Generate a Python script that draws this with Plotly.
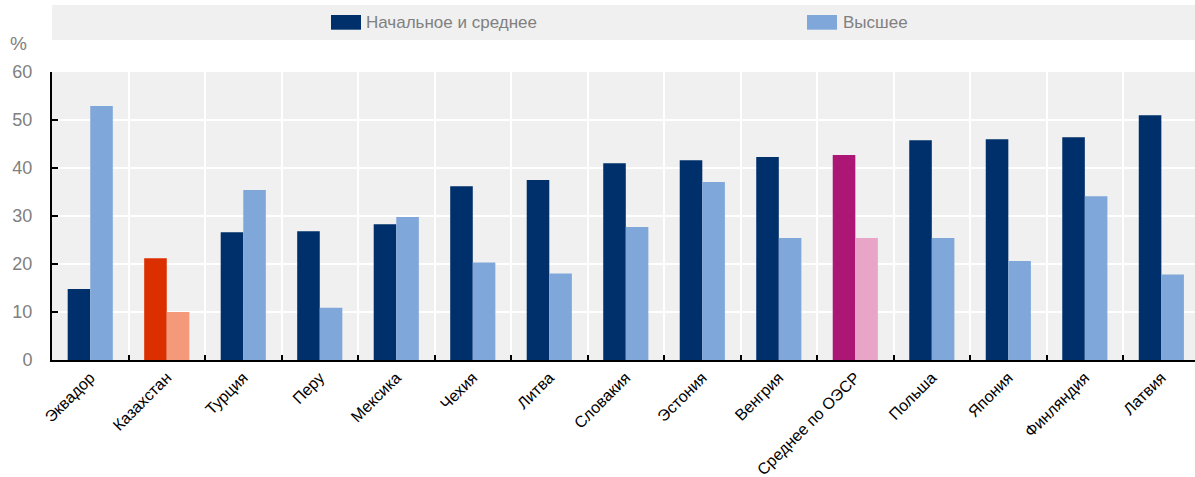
import plotly.graph_objects as go

# Доля взрослых по уровню образования, %
countries = ["Эквадор", "Казахстан", "Турция", "Перу", "Мексика", "Чехия", "Литва",
             "Словакия", "Эстония", "Венгрия", "Среднее по ОЭСР", "Польша", "Япония",
             "Финляндия", "Латвия"]
secondary = [14.8, 21.2, 26.6, 26.8, 28.3, 36.2, 37.5, 41.0, 41.6, 42.3, 42.7, 45.8, 46.0, 46.4, 51.0]
tertiary = [52.9, 10.0, 35.4, 10.9, 29.8, 20.3, 18.0, 27.7, 37.1, 25.4, 25.4, 25.4, 20.6, 34.1, 17.8]
y_ticks = [0, 10, 20, 30, 40, 50, 60]

DARK = "#00306b"
LIGHT = "#7fa7d9"
highlight_dark = {"Казахстан": "#dc2f00", "Среднее по ОЭСР": "#ac1675"}
highlight_light = {"Казахстан": "#f4997a", "Среднее по ОЭСР": "#e9a5c8"}

dark_colors = [highlight_dark.get(c, DARK) for c in countries]
light_colors = [highlight_light.get(c, LIGHT) for c in countries]

NARROW = "Liberation Sans Narrow, Arial Narrow, Liberation Sans, Arial, sans-serif"
REGULAR = "Liberation Sans, Arial, sans-serif"

fig = go.Figure()
fig.add_trace(go.Bar(x=countries, y=secondary, name="Начальное и среднее",
                     marker=dict(color=dark_colors, line=dict(width=0)), showlegend=False))
fig.add_trace(go.Bar(x=countries, y=tertiary, name="Высшее",
                     marker=dict(color=light_colors, line=dict(width=0)), showlegend=False))

W, H = 1195, 477
L, R, T, B = 52, 0, 72, 117
pw, ph = W - L - R, H - T - B


def px(x):
    return (x - L) / pw


def py(y):
    return (H - B - y) / ph


shapes = [
    dict(type="rect", xref="paper", yref="paper", x0=px(52), x1=px(1195), y0=py(40), y1=py(5),
         fillcolor="#f0f0f0", line=dict(width=0), layer="below"),
    dict(type="rect", xref="paper", yref="paper", x0=px(331), x1=px(361), y0=py(29.7), y1=py(15),
         fillcolor=DARK, line=dict(width=0)),
    dict(type="rect", xref="paper", yref="paper", x0=px(807), x1=px(837), y0=py(29.7), y1=py(15),
         fillcolor=LIGHT, line=dict(width=0)),
]
annotations = [
    dict(text="Начальное и среднее", xref="paper", yref="paper", x=px(364), y=py(22.5),
         xanchor="left", yanchor="middle", showarrow=False,
         font=dict(family=NARROW, size=17, color="#808080")),
    dict(text="Высшее", xref="paper", yref="paper", x=px(841), y=py(22.5),
         xanchor="left", yanchor="middle", showarrow=False,
         font=dict(family=NARROW, size=17, color="#808080")),
    dict(text="%", xref="paper", yref="paper", x=px(18), y=py(43),
         xanchor="center", yanchor="middle", showarrow=False,
         font=dict(family=NARROW, size=19, color="#808080")),
]

fig.update_layout(
    width=W, height=H,
    margin=dict(l=L, r=R, t=T, b=B, pad=0),
    paper_bgcolor="white", plot_bgcolor="#f0f0f0",
    barmode="group", bargap=0.41, bargroupgap=0,
    shapes=shapes, annotations=annotations,
    font=dict(family=REGULAR),
)
fig.update_xaxes(
    type="category", range=[-0.5, 14.44], automargin=False,
    tickson="boundaries", ticks="inside", ticklen=5, tickwidth=2, tickcolor="black",
    showgrid=True, gridcolor="white", gridwidth=2,
    showline=True, linecolor="black", linewidth=2,
    tickangle=-45, tickfont=dict(family=REGULAR, size=16, color="black"),
)
fig.update_yaxes(
    range=[0, 60], tickvals=y_ticks, automargin=False,
    ticks="inside", ticklen=6, tickwidth=2, tickcolor="black",
    showgrid=True, gridcolor="white", gridwidth=2,
    showline=True, linecolor="black", linewidth=2, zeroline=False,
    ticklabelstandoff=14,
    tickfont=dict(family=NARROW, size=18, color="#808080"),
)

fig.write_html("out.html")
